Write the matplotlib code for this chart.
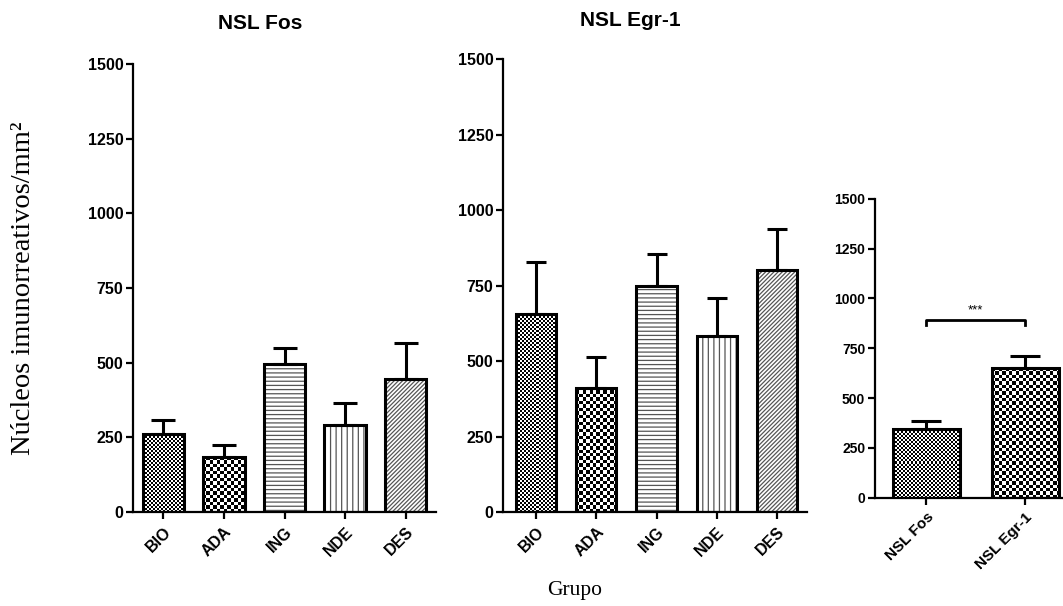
import numpy as np
import matplotlib
matplotlib.use("Agg")
import matplotlib.pyplot as plt

# --- dados ---
grupos = ["BIO", "ADA", "ING", "NDE", "DES"]
fos_media = [261, 184, 497, 291, 445]
fos_erro = [47, 40, 53, 74, 120]
egr_media = [655, 412, 749, 584, 803]
egr_erro = [173, 102, 106, 126, 135]
nsl_nomes = ["NSL Fos", "NSL Egr-1"]
nsl_media = [344, 652]
nsl_erro = [41, 59]
yticks = [0, 250, 500, 750, 1000, 1250, 1500]

plt.rcParams["font.family"] = ["Liberation Sans", "DejaVu Sans"]
plt.rcParams["font.weight"] = "bold"
plt.rcParams["hatch.linewidth"] = 0.9

fig = plt.figure(figsize=(10.63, 6.06), dpi=100)


def checker(ax, bar, cell_px):
    # preenche a barra com um xadrez (padrão do GraphPad)
    x0, y0, w, h = bar.get_x(), bar.get_y(), bar.get_width(), bar.get_height()
    (px0, py0), (px1, py1) = ax.transData.transform([(x0, y0), (x0 + w, y0 + h)])
    nx = max(1, int(round((px1 - px0) / cell_px)))
    ny = max(1, int(round((py1 - py0) / cell_px)))
    arr = np.add.outer(np.arange(ny), np.arange(nx)) % 2
    im = ax.imshow(arr, cmap="gray", extent=(x0, x0 + w, y0, y0 + h), origin="lower",
                   interpolation="nearest", aspect="auto", zorder=1)
    im.set_clip_path(bar)


def painel(rect, nomes, media, erro, fills, xlim, width, capsize, fs, xfs):
    ax = fig.add_axes(rect)
    ax.set_xlim(*xlim)
    ax.set_ylim(0, 1500)
    x = np.arange(1, len(nomes) + 1)
    ax.errorbar(x, media, yerr=[np.zeros(len(erro)), erro], fmt="none", ecolor="black",
                elinewidth=2.2, capsize=capsize, capthick=2.2, zorder=2)
    for xi, m, f in zip(x, media, fills):
        if f[0] == "check":
            b = ax.bar(xi, m, width=width, facecolor="none", edgecolor="black",
                       linewidth=2.2, zorder=3)[0]
            checker(ax, b, f[1])
        else:
            ax.bar(xi, m, width=width, facecolor="white", edgecolor="#555555",
                   hatch=f[1], linewidth=0, zorder=1)
            ax.bar(xi, m, width=width, facecolor="none", edgecolor="black",
                   linewidth=2.2, zorder=3)
    ax.set_xlim(*xlim)
    ax.set_ylim(0, 1500)
    ax.set_yticks(yticks)
    ax.set_xticks(x)
    ax.set_xticklabels(nomes, rotation=45, ha="right", rotation_mode="anchor",
                       fontsize=xfs, fontweight="bold")
    ax.tick_params(axis="y", labelsize=fs, width=1.6, length=5, pad=2)
    ax.tick_params(axis="x", width=1.6, length=5, pad=4)
    for s in ["top", "right"]:
        ax.spines[s].set_visible(False)
    for s in ["left", "bottom"]:
        ax.spines[s].set_linewidth(1.6)
    return ax


fills5 = [("check", 2.0), ("check", 3.5), ("hatch", "----"), ("hatch", "|||"),
          ("hatch", "////////")]

ax1 = painel([133 / 1063, 1 - 512 / 606, 303 / 1063, 448 / 606], grupos, fos_media, fos_erro,
             fills5, (0.5, 5.5), 0.68, 8.5, 11.5, 11.5)
ax1.text(0.42, 1.07, "NSL Fos", transform=ax1.transAxes, ha="center", va="bottom",
         fontsize=15, fontweight="bold")

ax2 = painel([503 / 1063, 1 - 512 / 606, 304 / 1063, 452.6 / 606], grupos, egr_media, egr_erro,
             fills5, (0.45, 5.5), 0.67, 7.5, 11.5, 11.5)
ax2.text(0.42, 1.065, "NSL Egr-1", transform=ax2.transAxes, ha="center", va="bottom",
         fontsize=15, fontweight="bold")

ax3 = painel([875 / 1063, 1 - 497.7 / 606, 187 / 1063, 299 / 606], nsl_nomes, nsl_media, nsl_erro,
             [("check", 2.0), ("check", 3.3)], (0.48, 2.37), 0.68, 10.5, 10, 11)

# barra de significância
ax3.plot([1, 1, 2, 2], [865, 890, 890, 865], color="black", lw=2.0, zorder=4)
ax3.text(1.5, 910, "***", ha="center", va="bottom", fontsize=9.5, fontweight="normal")

fig.text(24 / 1063, 1 - 288 / 606, "Núcleos imunorreativos/mm²", rotation=90,
         ha="center", va="center", fontsize=20.5, family="Liberation Serif", fontweight="normal")
fig.text(575 / 1063, 1 - 590 / 606, "Grupo", ha="center", va="center",
         fontsize=15.5, family="Liberation Serif", fontweight="normal")

fig.savefig("out.png", dpi=100)
